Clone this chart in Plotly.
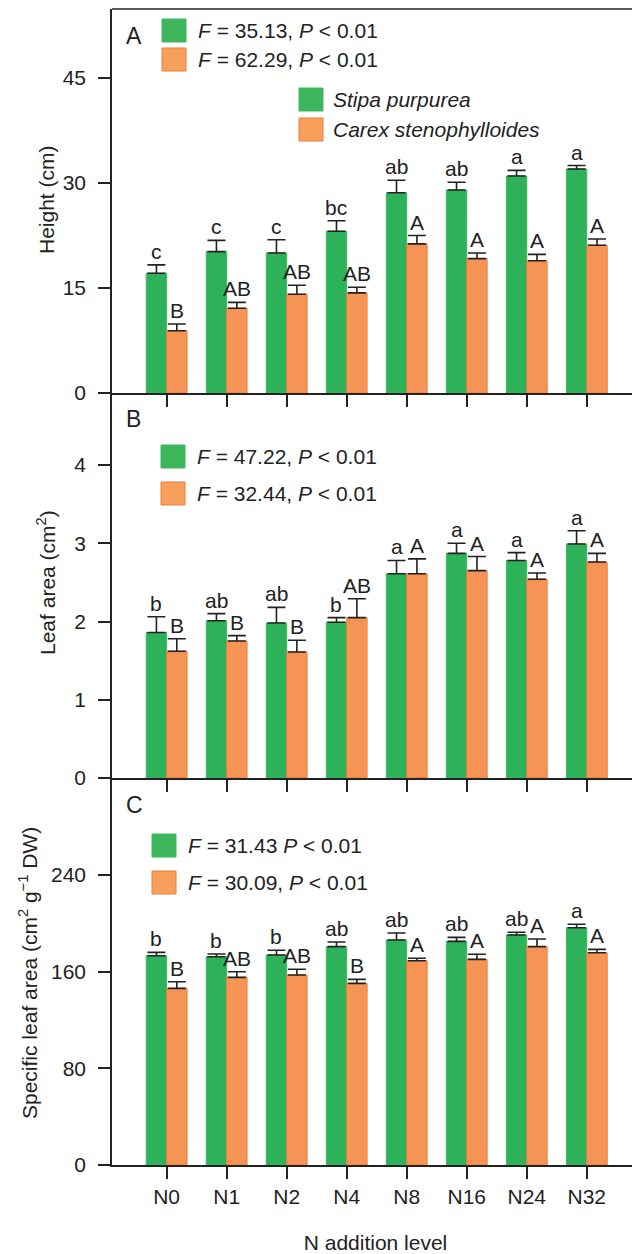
import plotly.graph_objects as go
from plotly.subplots import make_subplots

levels = ["N0", "N1", "N2", "N4", "N8", "N16", "N24", "N32"]

# Panel A: Height (cm)
height_stipa = [17.1, 20.2, 20.0, 23.1, 28.6, 29.0, 31.0, 32.0]
height_stipa_se = [1.2, 1.6, 1.9, 1.5, 1.8, 1.1, 0.8, 0.5]
height_carex = [8.9, 12.1, 14.1, 14.3, 21.3, 19.2, 18.9, 21.1]
height_carex_se = [0.96, 0.85, 1.3, 0.8, 1.2, 0.8, 0.9, 0.9]
height_stipa_letters = ["c", "c", "c", "bc", "ab", "ab", "a", "a"]
height_carex_letters = ["B", "AB", "AB", "AB", "A", "A", "A", "A"]

# Panel B: Leaf area (cm2)
leaf_stipa = [1.86, 2.01, 1.98, 1.99, 2.61, 2.87, 2.78, 2.99]
leaf_stipa_se = [0.20, 0.09, 0.20, 0.06, 0.17, 0.13, 0.10, 0.17]
leaf_carex = [1.62, 1.75, 1.61, 2.05, 2.61, 2.65, 2.54, 2.76]
leaf_carex_se = [0.16, 0.07, 0.15, 0.24, 0.19, 0.18, 0.08, 0.11]
leaf_stipa_letters = ["b", "ab", "ab", "b", "a", "a", "a", "a"]
leaf_carex_letters = ["B", "B", "B", "AB", "A", "A", "A", "A"]

# Panel C: Specific leaf area (cm2 g-1 DW)
sla_stipa = [173.2, 172.4, 173.8, 180.7, 186.2, 185.1, 190.4, 196.4]
sla_stipa_se = [2.8, 2.2, 3.9, 3.9, 5.8, 3.3, 2.2, 2.8]
sla_carex = [146.2, 155.3, 157.2, 150.3, 169.1, 170.2, 180.7, 175.7]
sla_carex_se = [5.5, 4.7, 4.8, 3.3, 2.0, 4.2, 6.3, 2.8]
sla_stipa_letters = ["b", "b", "b", "ab", "ab", "ab", "ab", "a"]
sla_carex_letters = ["B", "AB", "AB", "B", "A", "A", "A", "A"]

stats_A = ["<i>F</i> = 35.13, <i>P</i> &lt; 0.01", "<i>F</i> = 62.29, <i>P</i> &lt; 0.01"]
stats_B = ["<i>F</i> = 47.22, <i>P</i> &lt; 0.01", "<i>F</i> = 32.44, <i>P</i> &lt; 0.01"]
stats_C = ["<i>F</i> = 31.43 <i>P</i> &lt; 0.01", "<i>F</i> = 30.09, <i>P</i> &lt; 0.01"]
species = ["Stipa purpurea", "Carex stenophylloides"]
y_titles = ["Height (cm)", "Leaf area (cm<sup>2</sup>)",
            "Specific leaf area (cm<sup>2</sup> g<sup>\u22121</sup> DW)"]

GREEN = "#2db25a"
GREEN_EDGE = "#3cb862"
ORANGE = "#f59455"
ORANGE_EDGE = "#ee7c3c"
INK = "#222222"
FONT = "Liberation Sans, Arial, Helvetica, sans-serif"

# The page adds an 8 px body margin, so the figure is 8 px smaller than the window.
OFF = 8
W, H = 632, 1246
L, R, T, B = 104, 1, 1, 89
PW, PH = W - L - R, H - T - B


def px_x(px):
    """page pixel x -> paper fraction"""
    return (px - OFF - L) / PW


def px_y(py):
    """page pixel y -> paper fraction"""
    return (H - B - (py - OFF)) / PH


fig = make_subplots(rows=3, cols=1, vertical_spacing=0,
                    row_heights=[384, 385, 387])

panels = [
    (height_stipa, height_stipa_se, height_carex, height_carex_se,
     height_stipa_letters, height_carex_letters),
    (leaf_stipa, leaf_stipa_se, leaf_carex, leaf_carex_se,
     leaf_stipa_letters, leaf_carex_letters),
    (sla_stipa, sla_stipa_se, sla_carex, sla_carex_se,
     sla_stipa_letters, sla_carex_letters),
]

BW = 0.34
xi = list(range(len(levels)))
annotations = []
for r, (gs, gse, cs, cse, gl, cl) in enumerate(panels, start=1):
    fig.add_trace(go.Bar(
        x=levels, y=gs, width=BW, offset=-BW, name=species[0],
        marker=dict(color=GREEN, line=dict(color=GREEN_EDGE, width=1)),
        error_y=dict(type="data", symmetric=False, array=gse,
                     arrayminus=[0] * len(gs), color=INK, thickness=1.6, width=9),
        showlegend=False), row=r, col=1)
    fig.add_trace(go.Bar(
        x=levels, y=cs, width=BW, offset=0, name=species[1],
        marker=dict(color=ORANGE, line=dict(color=ORANGE_EDGE, width=1)),
        error_y=dict(type="data", symmetric=False, array=cse,
                     arrayminus=[0] * len(cs), color=INK, thickness=1.6, width=9),
        showlegend=False), row=r, col=1)
    xr = "x" if r == 1 else f"x{r}"
    yr = "y" if r == 1 else f"y{r}"
    for i in xi:
        annotations.append(dict(x=i - BW / 2, y=gs[i] + gse[i], xref=xr, yref=yr,
                                text=gl[i], showarrow=False, yanchor="bottom",
                                yshift=0, font=dict(size=21, color=INK, family=FONT)))
        annotations.append(dict(x=i + BW / 2, y=cs[i] + cse[i], xref=xr, yref=yr,
                                text=cl[i], showarrow=False, yanchor="bottom",
                                yshift=0, font=dict(size=21, color=INK, family=FONT)))

fig.update_layout(barmode="overlay")

axis_common = dict(showline=True, linecolor=INK, linewidth=1.5, ticks="outside",
                   ticklen=12, tickwidth=1.5, tickcolor=INK, showgrid=False,
                   zeroline=False, automargin=False,
                   tickfont=dict(size=21, color=INK, family=FONT))

for r in (1, 2, 3):
    fig.update_xaxes(type="category", categoryarray=levels, range=[-0.91, 7.87],
                     showticklabels=(r == 3), row=r, col=1, **axis_common)

fig.update_xaxes(title=dict(text="N addition level", standoff=29,
                            font=dict(size=21, color=INK, family=FONT)), row=3, col=1)

fig.update_yaxes(range=[0, 54.86], tickvals=[0, 15, 30, 45], ticklabelstandoff=8,
                 row=1, col=1, **axis_common)
fig.update_yaxes(range=[0, 4.92], tickvals=[0, 1, 2, 3, 4], ticklabelstandoff=8,
                 row=2, col=1, **axis_common)
fig.update_yaxes(range=[0, 320.3], tickvals=[0, 80, 160, 240], ticklabelstandoff=8,
                 row=3, col=1, **axis_common)

# y-axis titles placed as rotated annotations
for txt, cx, cy in zip(y_titles, (46, 46, 28), (200, 583, 973)):
    annotations.append(dict(x=px_x(cx), y=px_y(cy), xref="paper", yref="paper",
                            text=txt, textangle=-90, showarrow=False,
                            xanchor="center", yanchor="middle",
                            font=dict(size=21, color=INK, family=FONT)))

shapes = []
# top frame line and faint right edge
shapes.append(dict(type="line", xref="paper", yref="paper", x0=0, x1=1, y0=1, y1=1,
                   line=dict(color=INK, width=1.5)))
shapes.append(dict(type="line", xref="paper", yref="paper", x0=1, x1=1, y0=0, y1=1,
                   line=dict(color="#dddddd", width=1)))


def legend_entry(x0, y0, color, edge, text, tx, italic=False):
    shapes.append(dict(type="rect", xref="paper", yref="paper",
                       x0=px_x(x0), x1=px_x(x0 + 24), y0=px_y(y0 + 23), y1=px_y(y0),
                       fillcolor=color, line=dict(color=edge, width=1)))
    annotations.append(dict(x=px_x(tx), y=px_y(y0 + 11.5), xref="paper", yref="paper",
                            text=(f"<i>{text}</i>" if italic else text),
                            showarrow=False, xanchor="left", yanchor="middle",
                            font=dict(size=21, color=INK, family=FONT)))


LG = "#3db65b"
LO = "#f7a05c"
# Panel A
legend_entry(162, 19, LG, GREEN_EDGE, stats_A[0], 196)
legend_entry(162, 48, LO, ORANGE_EDGE, stats_A[1], 196)
legend_entry(299, 88, LG, GREEN_EDGE, species[0], 331, italic=True)
legend_entry(299, 118, LO, ORANGE_EDGE, species[1], 331, italic=True)
# Panel B
legend_entry(161, 445, LG, GREEN_EDGE, stats_B[0], 195)
legend_entry(161, 482, LO, ORANGE_EDGE, stats_B[1], 195)
# Panel C
legend_entry(152, 834, LG, GREEN_EDGE, stats_C[0], 186)
legend_entry(152, 871, LO, ORANGE_EDGE, stats_C[1], 186)

for lab, py in (("A", 36), ("B", 419), ("C", 805)):
    annotations.append(dict(x=px_x(124), y=px_y(py), xref="paper", yref="paper",
                            text=lab, showarrow=False, xanchor="left", yanchor="middle",
                            font=dict(size=23, color=INK, family=FONT)))

fig.update_layout(width=W, height=H, margin=dict(l=L, r=R, t=T, b=B),
                  paper_bgcolor="white", plot_bgcolor="white",
                  font=dict(family=FONT, color=INK),
                  shapes=shapes, annotations=annotations, showlegend=False)

fig.write_html("out.html")
